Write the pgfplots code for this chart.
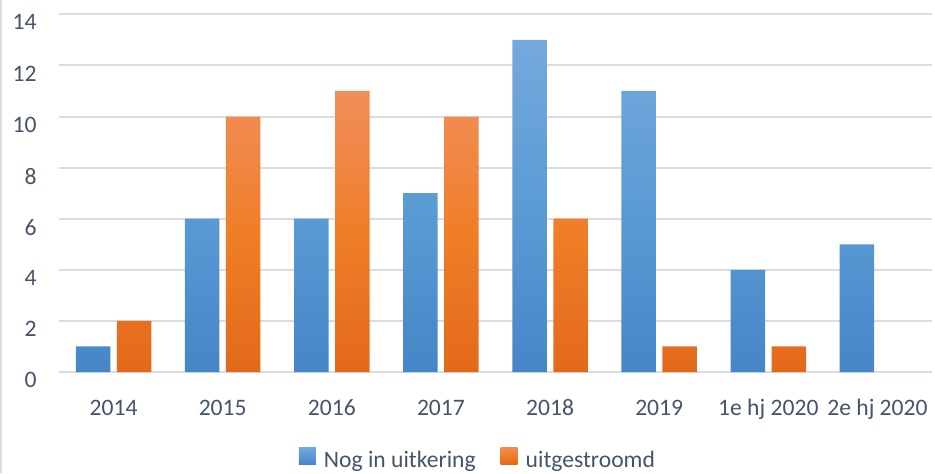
\documentclass[border=0pt]{standalone}
\usepackage{fontspec}
\setmainfont{Carlito}
\usepackage{pgfplots}
\pgfplotsset{compat=1.18}

\definecolor{txt}{HTML}{44546A}
\definecolor{gridc}{HTML}{D9DCE1}
\definecolor{blueT}{HTML}{74A9DC}
\definecolor{blueM}{HTML}{5B9BD5}
\definecolor{blueB}{HTML}{4686C8}
\definecolor{oranT}{HTML}{F08E5A}
\definecolor{oranM}{HTML}{F07E28}
\definecolor{oranB}{HTML}{E3691B}

\begin{document}
\begin{tikzpicture}[x=1pt,y=1pt]
\useasboundingbox (0,0) rectangle (467.5,236.5);
\draw[gridc, line width=0.75pt] (0.4,0) -- (0.4,236.5);
\begin{axis}[
  at={(29.5pt,50.5pt)}, anchor=south west,
  scale only axis, width=436.5pt, height=178.85pt,
  ybar=3.25pt, bar width=17.25pt,
  xmin=-0.5, xmax=7.5, ymin=0, ymax=14,
  xtick={0,...,7},
  xticklabels={2014,2015,2016,2017,2018,2019,1e hj 2020,2e hj 2020},
  ytick={0,2,...,14},
  ymajorgrids, grid style={gridc, line width=1pt},
  axis line style={draw=none},
  major tick length=0pt,
  tick label style={font=\fontsize{11.8}{13}\selectfont, text=txt,
    /pgf/number format/assume math mode=true},
  yticklabel style={anchor=north east, inner sep=0pt, xshift=-11pt},
  xticklabel style={anchor=base, inner sep=0pt, yshift=-21.5pt},
  legend columns=2,
  legend style={at={(0.481,-0.2474)}, anchor=center, draw=none, fill=none,
    font=\fontsize{11.8}{13}\selectfont, text=txt,
    /tikz/every even column/.append style={column sep=10.5pt}},
  legend image code/.code={\path[#1,draw=none] (0pt,-1.75pt) rectangle (8.5pt,6.75pt);
    \path (10.5pt,2pt);},
]
% Nog in uitkering
\addplot[draw=none, top color=blueT, bottom color=blueB, middle color=blueM]
  coordinates {(0,1)(1,6)(2,6)(3,7)(4,13)(5,11)(6,4)(7,5)};
\addlegendentry{Nog in uitkering}
% uitgestroomd
\addplot[draw=none, top color=oranT, bottom color=oranB, middle color=oranM]
  coordinates {(0,2)(1,10)(2,11)(3,10)(4,6)(5,1)(6,1)};
\addlegendentry{uitgestroomd}
\end{axis}
\end{tikzpicture}
\end{document}
